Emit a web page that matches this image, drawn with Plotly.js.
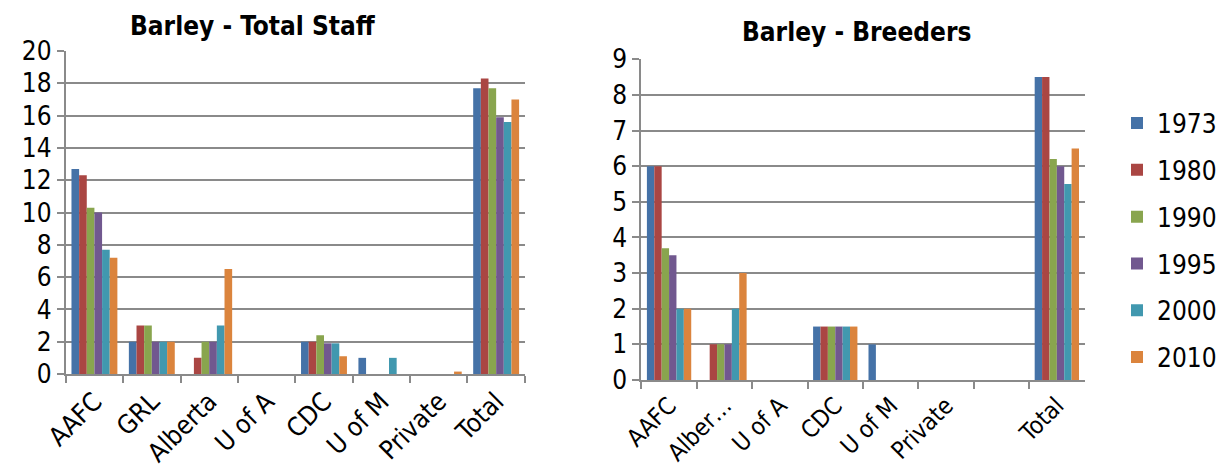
<!DOCTYPE html>
<html>
<head>
<meta charset="utf-8">
<script src="https://cdn.plot.ly/plotly-3.0.1.min.js"></script>
<style>
  html, body { margin: 0; padding: 0; background: #fff; }
  #chart { width: 1222px; height: 470px; }
</style>
</head>
<body>
<div id="chart"></div>
<script>
// ---- Data ----
const years = ["1973", "1980", "1990", "1995", "2000", "2010"];
const colors = ["#4572A7", "#AA4643", "#89A54E", "#71588F", "#4198AF", "#DB843D"];

const staffCategories = ["AAFC", "GRL", "Alberta", "U of A", "CDC", "U of M", "Private", "Total"];
const staff1973 = [12.7, 2, 0, 0, 2, 1, 0, 17.7];
const staff1980 = [12.3, 3, 1, 0, 2, 0, 0, 18.3];
const staff1990 = [10.3, 3, 2, 0, 2.4, 0, 0, 17.7];
const staff1995 = [10, 2, 2, 0, 1.9, 0, 0, 15.9];
const staff2000 = [7.7, 2, 3, 0, 1.9, 1, 0, 15.6];
const staff2010 = [7.2, 2, 6.5, 0, 1.1, 0, 0.15, 17];

const breederCategories = ["AAFC", "Alber…", "U of A", "CDC", "U of M", "Private", " ", "Total"];
const breeders1973 = [6, 0, 0, 1.5, 1, 0, 0, 8.5];
const breeders1980 = [6, 1, 0, 1.5, 0, 0, 0, 8.5];
const breeders1990 = [3.7, 1, 0, 1.5, 0, 0, 0, 6.2];
const breeders1995 = [3.5, 1, 0, 1.5, 0, 0, 0, 6];
const breeders2000 = [2, 2, 0, 1.5, 0, 0, 0, 5.5];
const breeders2010 = [2, 3, 0, 1.5, 0, 0, 0, 6.5];

const staffSeries = [staff1973, staff1980, staff1990, staff1995, staff2000, staff2010];
const breederSeries = [breeders1973, breeders1980, breeders1990, breeders1995, breeders2000, breeders2010];

// ---- Traces ----
const FONT = '"DejaVu Sans Condensed", "Liberation Sans", sans-serif';
const traces = [];
years.forEach((yr, i) => {
  traces.push({
    type: "bar", name: yr, x: staffCategories, y: staffSeries[i],
    xaxis: "x", yaxis: "y", marker: { color: colors[i], line: { width: 0 } },
    legendgroup: yr, showlegend: true, hoverinfo: "x+y+name"
  });
});
years.forEach((yr, i) => {
  traces.push({
    type: "bar", name: yr, x: breederCategories, y: breederSeries[i],
    xaxis: "x2", yaxis: "y2", marker: { color: colors[i], line: { width: 0 } },
    legendgroup: yr, showlegend: false, hoverinfo: "x+y+name"
  });
});

const gridCol = "#8a8a8a";
const xBase = {
  type: "category", showgrid: false, showline: true, linecolor: gridCol, linewidth: 2,
  ticks: "outside", tickson: "boundaries", ticklen: 7, tickcolor: gridCol, tickwidth: 2,
  tickangle: -45, tickfont: { family: FONT, size: 26, color: "#000" }, zeroline: false
};
const yBase = {
  showgrid: true, gridcolor: gridCol, gridwidth: 2, showline: true, linecolor: gridCol, linewidth: 2,
  ticks: "outside", ticklen: 7, tickcolor: gridCol, tickwidth: 2, zeroline: false,
  tickfont: { family: FONT, size: 26, color: "#000" }, fixedrange: true
};

const layout = {
  width: 1222, height: 470,
  margin: { l: 0, r: 0, t: 0, b: 0 },
  paper_bgcolor: "#fff", plot_bgcolor: "#fff",
  barmode: "group", bargap: 0.2, bargroupgap: 0,
  showlegend: true,
  legend: {
    x: 0.918, xanchor: "left", y: 0.788, yanchor: "top",
    font: { family: FONT, size: 26, color: "#000" },
    traceorder: "grouped", tracegroupgap: 10, itemwidth: 30
  },
  xaxis: Object.assign({}, xBase, { domain: [66 / 1222, 527 / 1222], anchor: "y" }),
  yaxis: Object.assign({}, yBase, { domain: [1 - 374 / 470, 1 - 51 / 470], range: [0, 20], dtick: 2, anchor: "x" }),
  xaxis2: Object.assign({}, xBase, { domain: [644 / 1222, 1089 / 1222], anchor: "y2",
    tickfont: { family: FONT, size: 24, color: "#000" } }),
  yaxis2: Object.assign({}, yBase, { domain: [1 - 380 / 470, 1 - 59.3 / 470], range: [0, 9], dtick: 1, anchor: "x2" }),
  annotations: [
    { text: "<b>Barley - Total Staff</b>", xref: "paper", yref: "paper", x: 254 / 1222, y: 1 - 26 / 470,
      xanchor: "center", yanchor: "middle", showarrow: false, font: { family: FONT, size: 26, color: "#000" } },
    { text: "<b>Barley - Breeders</b>", xref: "paper", yref: "paper", x: 860 / 1222, y: 1 - 32 / 470,
      xanchor: "center", yanchor: "middle", showarrow: false, font: { family: FONT, size: 26, color: "#000" } }
  ]
};

Plotly.newPlot("chart", traces, layout, { displayModeBar: false, staticPlot: true });
</script>
</body>
</html>
